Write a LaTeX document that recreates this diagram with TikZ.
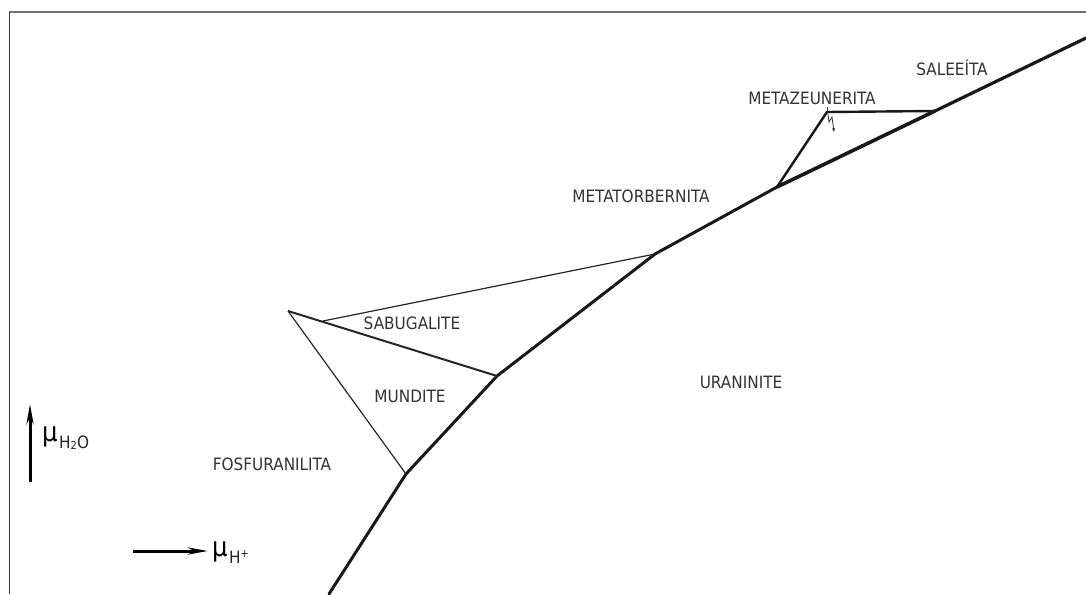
\documentclass[tikz,border=0pt]{standalone}
\usepackage{fontspec}
\setmainfont{DejaVu Sans Condensed}
\usetikzlibrary{arrows.meta}
\begin{document}
\begin{tikzpicture}[x=1pt,y=-1pt,
  lab/.style={font=\fontsize{17}{18}\selectfont, text=black!80, inner sep=0pt},
  bound/.style={line width=3pt, black!90, line cap=round, line join=round},
  thin/.style={line width=1.2pt, black!85},
  mid/.style={line width=2pt, black!85},
  axisarrow/.style={line width=3pt, -{Stealth[length=20pt,width=7pt]}},
  mu/.style={anchor=base west, inner sep=0pt, font=\fontsize{27}{27}\selectfont},
  sub/.style={anchor=base west, inner sep=0pt, font=\fontsize{17}{17}\selectfont, text=black!85}]
\useasboundingbox (0,0) rectangle (1086,594);
\fill[white] (0,0) rectangle (1086,594);
% frame
\draw[line width=2pt, black!55] (9,12) -- (1086,12);
\draw[line width=1pt, black!80] (9,12) -- (9,594);
% points
\coordinate (p0) at (329,594);
\coordinate (p1) at (406,474);
\coordinate (p2) at (497,376);
\coordinate (p3) at (655,254);
\coordinate (p4) at (777,187);
\coordinate (p5) at (935,111);
\coordinate (p6) at (1086,38);
\coordinate (q0) at (288,311);
\coordinate (q1) at (323,321);
\coordinate (m0) at (827,112);
% main boundary
\draw[bound] (p0) -- (p1) -- (p2) -- (p3) -- (p4);
\draw[line width=3.6pt, black!90] (p4) -- (p5);
\draw[line width=3.2pt, black!90, line cap=round] (p5) -- (p6);
% sabugalite / mundite
\draw[thin] (q1) -- (p3);
\draw[thin] (q0) -- (p1);
\draw[mid] (q0) -- (p2);
% metazeunerita
\draw[line width=2.4pt, black!90] (p4) -- (m0) -- (p5);
\draw[line width=0.8pt, black!80] (m0) -- (827,107);
\draw[line width=0.8pt, black!80, -{Stealth[length=4pt,width=3pt]}] (828,114) -- (829,122) -- (832,117) -- (834,132);
% labels
\node[lab] (sal) at (952,68) {SALEEÍTA};
\node[lab] (mzn) at (812,98) {METAZEUNERITA};
\node[lab] (mtb) at (641,196) {METATORBERNITA};
\node[lab] (sab) at (412,323) {SABUGALITE};
\node[lab] (mun) at (410,396) {MUNDITE};
\node[lab] (ura) at (741,382) {URANINITE};
\node[lab] (fos) at (272,464) {FOSFURANILITA};
% axes
\coordinate (a0) at (30,482);
\coordinate (a1) at (30,404);
\coordinate (b0) at (133,551);
\coordinate (b1) at (208,551);
\draw[axisarrow] (a0) -- (a1);
\draw[axisarrow] (b0) -- (b1);
\node[mu] (mu1) at (42,441.5) {μ};
\node[sub] (h2o) at (59,448) {H\raisebox{-0.15ex}{\fontsize{11}{11}\selectfont 2}O};
\node[mu] (mu2) at (212,556.5) {μ};
\node[sub] (hp) at (229,563) {H\raisebox{0.55ex}{\fontsize{11}{11}\selectfont +}};
\end{tikzpicture}
\end{document}
